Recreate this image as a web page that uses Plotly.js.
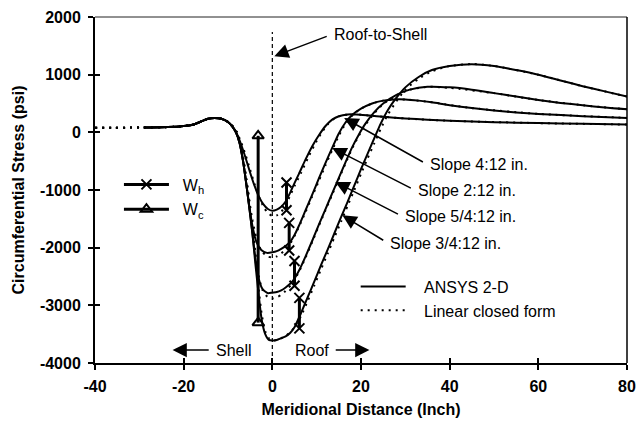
<!DOCTYPE html>
<html><head><meta charset="utf-8">
<script src="https://cdn.plot.ly/plotly-3.0.1.min.js"></script>
<style>html,body{margin:0;padding:0;background:#fff}#chart{width:636px;height:425px}</style>
</head><body><div id="chart"></div>
<script>
// ---------- data ----------
const xTickVals = [-40, -20, 0, 20, 40, 60, 80];
const xTickText = ["-40", "-20", "0", "20", "40", "60", "80"];
const yTickVals = [-4000, -3000, -2000, -1000, 0, 1000, 2000];
const yTickText = ["-4000", "-3000", "-2000", "-1000", "0", "1000", "2000"];

// ANSYS 2-D (solid)
const ansys412X = [-29,-25,-21,-18,-16,-14.5,-13,-11.5,-10,-9,-8,-7,-6,-5,-4,-3,-2,-1,0,1,2,3,4,5,6,7.5,9,10.5,12,13.5,15,17,19,22,25,30,35,40,50,60,70,80];
const ansys412Y = [85,88,100,130,190,235,250,235,180,100,-30,-220,-450,-700,-930,-1120,-1250,-1330,-1360,-1340,-1290,-1200,-1050,-880,-720,-470,-240,-50,110,220,280,310,310,290,270,240,220,200,175,160,148,135];

const ansys212X = [-29,-25,-21,-18,-16,-14.5,-13,-11.5,-10,-9,-8.2,-7.4,-6.6,-5.9,-5.2,-4.5,-3.6,-2.5,-1.2,0,1,2,3,4,5,6,7.5,9,10.5,12,13.5,15,16.5,18,20,22.5,25,27.5,30,33,36,40,45,50,55,60,70,80];
const ansys212Y = [85,88,100,130,190,235,250,235,180,100,0,-180,-500,-880,-1280,-1620,-1900,-2040,-2090,-2080,-2060,-2020,-1970,-1900,-1780,-1620,-1350,-1080,-800,-530,-270,-20,170,300,410,500,550,570,570,550,520,470,420,380,345,320,280,250];

const ansys5412X = [-29,-25,-21,-18,-16,-14.5,-13,-11.5,-10,-9,-8.2,-7.4,-6.6,-5.9,-5.2,-4.5,-3.8,-3.1,-2.2,-1,0,1,2,3,4.5,6,7.5,9,10.5,12,13.5,15,16.5,18,19.5,21,23,25,28,31,35,40,45,50,55,60,65,70,75,80];
const ansys5412Y = [85,88,100,130,190,235,250,235,180,100,0,-180,-500,-880,-1300,-1750,-2200,-2530,-2720,-2790,-2780,-2770,-2740,-2690,-2590,-2400,-2150,-1880,-1600,-1330,-1060,-790,-520,-260,-40,150,350,500,650,740,790,780,740,680,620,560,510,470,430,400];

const ansys3412X = [-29,-25,-21,-18,-16,-14.5,-13,-11.5,-10,-9,-8.2,-7.4,-6.6,-5.9,-5.2,-4.5,-3.8,-3.1,-2.4,-1.6,-0.8,0,1,2,3,4,5,6.5,8,9.5,11,12.5,14,15.5,17,18.5,20,21.5,23,24.5,26,28,30,33,36,40,45,50,55,60,65,70,75,80];
const ansys3412Y = [85,88,100,130,190,235,250,235,180,100,0,-180,-500,-880,-1300,-1750,-2300,-2800,-3250,-3500,-3600,-3610,-3600,-3570,-3540,-3480,-3380,-3130,-2855,-2580,-2300,-2030,-1750,-1470,-1200,-920,-640,-370,-100,160,380,600,780,960,1080,1150,1180,1150,1080,1000,900,800,710,620];

// Linear closed form (dotted)
const lin412X = [-40,-36,-32,-29,-25,-21,-18,-16,-14.5,-13,-11.5,-10,-9,-8,-7,-6,-5,-4,-3,-2,-1,0,1,2,3,4,5,6.5,8,9.5,11,12.5,14,16,19,22,25,30,40,60,80];
const lin412Y = [80,80,82,85,88,100,130,190,235,250,235,180,110,0,-180,-400,-650,-900,-1120,-1290,-1400,-1450,-1440,-1380,-1260,-1100,-930,-700,-450,-220,-20,140,240,300,310,290,270,240,200,160,135];

const lin212X = [-40,-36,-32,-29,-25,-21,-18,-16,-14.5,-13,-11.5,-10,-9,-8,-7.4,-6.6,-5.9,-5.2,-4.5,-3.6,-2.5,-1.2,0,1,2,3,4,5,6,7.5,9,10.5,12,13.5,15,16.5,18,20,22.5,25,27.5,30,36,45,60,80];
const lin212Y = [80,80,82,85,88,100,130,190,235,250,235,180,110,0,-150,-450,-800,-1180,-1520,-1830,-2050,-2150,-2170,-2150,-2100,-2030,-1930,-1800,-1640,-1380,-1110,-840,-570,-310,-60,150,290,410,500,550,570,570,520,420,320,250];

const lin5412X = [-40,-36,-32,-29,-25,-21,-18,-16,-14.5,-13,-11.5,-10,-9,-8,-7.4,-6.6,-5.9,-5.2,-4.5,-3.8,-3.1,-2.2,-1,0,1,2,3,4.5,6,7.5,9,10.5,12,13.5,15,16.5,18,19.5,21,23,25,28,31,35,40,50,60,70,80];
const lin5412Y = [80,80,82,85,88,100,130,190,235,250,235,180,110,0,-150,-450,-800,-1200,-1650,-2100,-2480,-2740,-2860,-2880,-2860,-2820,-2750,-2620,-2420,-2170,-1900,-1620,-1350,-1080,-810,-540,-280,-60,130,330,490,640,740,790,770,680,560,470,400];

const lin3412X = [-40,-36,-32,-29,-25,-21,-18,-16,-14.5,-13,-11.5,-10,-9,-8,-7.4,-6.6,-5.9,-5.2,-4.5,-3.8,-3.1,-2.4,-1.6,-0.8,0,1,2,3,4,5,6.5,8,9.5,11,12.5,14,15.5,17,18.5,20,21.5,23,24.5,26,28,30,33,36,40,45,50,60,70,80];
const lin3412Y = [80,80,82,85,88,100,130,190,235,250,235,180,110,0,-150,-450,-800,-1200,-1650,-2200,-2700,-3150,-3450,-3570,-3610,-3600,-3570,-3530,-3470,-3380,-3180,-2920,-2650,-2370,-2100,-1820,-1550,-1270,-1000,-720,-450,-190,70,300,540,740,930,1060,1150,1185,1150,1000,800,620];

// W_h: vertical jumps with X markers (one pair per slope)
const whX = [3.2, 3.2, null, 3.8, 3.8, null, 5.0, 5.0, null, 6.1, 6.1];
const whY = [-1350, -870, null, -2050, -1570, null, -2660, -2230, null, -3400, -2870];
// W_c: vertical line with triangle markers
const wcX = [-3.2, -3.2];
const wcY = [-3300, -60];
// roof-to-shell junction line
const junctionX = [0, 0];
const junctionY = [-4000, 1740];

// ---------- traces ----------
const FONT = "Liberation Sans, Arial, Helvetica, sans-serif";
const NB = "\u00a0";
const solid = {color: "#000", width: 2};
const dotted = {color: "#000", width: 2, dash: "2px,5px"};
function ansys(x, y, show) {
  return {x, y, type: "scatter", mode: "lines", line: Object.assign({shape: "spline", smoothing: 0.6}, solid),
    name: NB + NB + NB + "ANSYS 2-D", legend: "legend2", legendgroup: "ansys", showlegend: show, hoverinfo: "skip"};
}
function lin(x, y, show) {
  return {x, y, type: "scatter", mode: "lines", line: Object.assign({shape: "spline", smoothing: 0.6}, dotted),
    name: NB + NB + NB + "Linear closed form", legend: "legend2", legendgroup: "lin", showlegend: show, hoverinfo: "skip"};
}
const traces = [
  {x: junctionX, y: junctionY, type: "scatter", mode: "lines", xaxis: "x2", yaxis: "y2",
   line: {color: "#000", width: 1.2, dash: "4px,3px"}, showlegend: false, hoverinfo: "skip"},
  lin(lin412X, lin412Y, false), lin(lin212X, lin212Y, false), lin(lin5412X, lin5412Y, false), lin(lin3412X, lin3412Y, false),
  ansys(ansys412X, ansys412Y, true), ansys(ansys212X, ansys212Y, false), ansys(ansys5412X, ansys5412Y, false), ansys(ansys3412X, ansys3412Y, false),
  lin(lin3412X.slice(0, 1), lin3412Y.slice(0, 1), true),
  {x: whX, y: whY, type: "scatter", mode: "lines+markers", name: NB + NB + "W<sub>h</sub>", legend: "legend", legendgroup: "wh",
   line: {color: "#000", width: 3}, marker: {symbol: "x-thin-open", size: 10, color: "#000", line: {color: "#000", width: 2}}, connectgaps: false, hoverinfo: "skip"},
  {x: wcX, y: wcY, type: "scatter", mode: "lines+markers", name: NB + NB + "W<sub>c</sub>", legend: "legend", legendgroup: "wc",
   line: {color: "#000", width: 3}, marker: {symbol: "triangle-up-open", size: 10, color: "#000", line: {color: "#000", width: 2}}, hoverinfo: "skip"}
];

// ---------- annotations ----------
const arrowStyle = {showarrow: true, arrowhead: 2, arrowsize: 1.9, arrowwidth: 1.5, arrowcolor: "#000", font: {family: FONT, size: 16, color: "#000"}};
const annotations = [
  Object.assign({x: 0.45, y: 1320, xref: "x", yref: "y", text: "Roof-to-Shell", ax: 58, ay: -22, xanchor: "left", startstandoff: 6}, arrowStyle),
  Object.assign({x: 16.2, y: 250, xref: "x", yref: "y", text: "Slope 4:12 in.", ax: 84, ay: 47, xanchor: "left", startstandoff: 6}, arrowStyle),
  Object.assign({x: 13.5, y: -270, xref: "x", yref: "y", text: "Slope 2:12 in.", ax: 84, ay: 43, xanchor: "left", startstandoff: 6}, arrowStyle),
  Object.assign({x: 14.2, y: -860, xref: "x", yref: "y", text: "Slope 5/4:12 in.", ax: 68, ay: 35, xanchor: "left", startstandoff: 6}, arrowStyle),
  Object.assign({x: 15.8, y: -1440, xref: "x", yref: "y", text: "Slope 3/4:12 in.", ax: 46, ay: 28, xanchor: "left", startstandoff: 6}, arrowStyle),
  Object.assign({x: -22.5, y: -3775, xref: "x", yref: "y", axref: "x", ayref: "y", ax: -8.6, ay: -3775, text: "Shell", startstandoff: 6}, arrowStyle),
  Object.assign({x: 21.9, y: -3775, xref: "x", yref: "y", axref: "x", ayref: "y", ax: 9.0, ay: -3775, text: "Roof", startstandoff: 5}, arrowStyle)
];

const axisCommon = {showgrid: false, zeroline: false, showline: true, linecolor: "#000", linewidth: 2,
  ticks: "outside", ticklen: 5, tickwidth: 2, tickcolor: "#000",
  tickfont: {family: FONT, size: 16, color: "#000", weight: "bold"}};

const layout = {
  width: 636, height: 425,
  margin: {l: 95, r: 9, t: 17, b: 62},
  paper_bgcolor: "#fff", plot_bgcolor: "#fff",
  font: {family: FONT, color: "#000"},
  xaxis: Object.assign({}, axisCommon, {range: [-40, 80], tickvals: xTickVals, ticktext: xTickText, ticklabelstandoff: 3,
    title: {text: "Meridional Distance (Inch)", font: {family: FONT, size: 16, weight: "bold", color: "#000"}, standoff: 10}}),
  yaxis: Object.assign({}, axisCommon, {range: [-4000, 2000], tickvals: yTickVals, ticktext: yTickText, ticklabelstandoff: 4,
    title: {text: "Circumferential Stress (psi)", font: {family: FONT, size: 16, weight: "bold", color: "#000"}, standoff: 11}}),
  xaxis2: {overlaying: "x", anchor: "y2", range: [-40, 80], tickvals: xTickVals, ticks: "inside", ticklen: 5, tickwidth: 2, tickcolor: "#000",
    showticklabels: false, showgrid: false, zeroline: false, showline: false},
  yaxis2: {overlaying: "y", anchor: "x2", range: [-4000, 2000], tickvals: yTickVals, ticks: "inside", ticklen: 5, tickwidth: 2, tickcolor: "#000",
    showticklabels: false, showgrid: false, zeroline: false, showline: false},
  showlegend: true,
  legend: {x: 0.045, y: 0.565, xanchor: "left", yanchor: "top", bgcolor: "rgba(0,0,0,0)", borderwidth: 0,
    font: {family: FONT, size: 16, color: "#000"}, itemwidth: 45, tracegroupgap: 1, traceorder: "grouped"},
  legend2: {x: 0.49, y: 0.27, xanchor: "left", yanchor: "top", bgcolor: "rgba(0,0,0,0)", borderwidth: 0,
    font: {family: FONT, size: 16, color: "#000"}, itemwidth: 45, traceorder: "normal"},
  shapes: [
    {type: "line", xref: "paper", yref: "paper", x0: 0, x1: 1, y0: 1, y1: 1, line: {color: "#222", width: 1}},
    {type: "line", xref: "paper", yref: "paper", x0: 1, x1: 1, y0: 0, y1: 1, line: {color: "#000", width: 1.5}}
  ],
  annotations: annotations
};

Plotly.newPlot("chart", traces, layout, {staticPlot: true, displayModeBar: false});
</script>
</body></html>
